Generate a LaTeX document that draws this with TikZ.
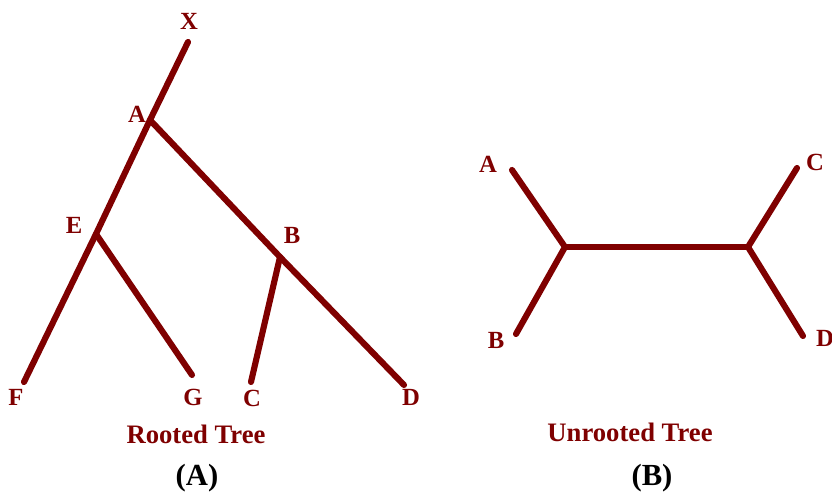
\documentclass[tikz,border=0pt]{standalone}
\usepackage{fontspec}
\setmainfont{Liberation Serif}
\definecolor{treered}{HTML}{7F0000}
\begin{document}
\begin{tikzpicture}[x=0.75pt,y=-0.75pt,
  branch/.style={draw=treered,line width=4.6pt,line cap=round},
  lbl/.style={text=treered,font=\bfseries\fontsize{18.5}{20}\selectfont,inner sep=0pt},
  titlelbl/.style={text=treered,font=\bfseries\fontsize{20}{22}\selectfont,inner sep=0pt},
  panel/.style={text=black,font=\bfseries\fontsize{23}{26}\selectfont,inner sep=0pt}]
\useasboundingbox (0,0) rectangle (832,498);
% rooted tree
\coordinate (x) at (188,42);
\coordinate (a) at (150,120);
\coordinate (e) at (96,234);
\coordinate (f) at (24,382);
\coordinate (g) at (192,375);
\coordinate (b) at (280,257);
\coordinate (c) at (251,382);
\coordinate (d) at (404,385);
\draw[branch] (x) -- (a) -- (e) -- (f);
\draw[branch] (e) -- (g);
\draw[branch] (a) -- (b) -- (d);
\draw[branch] (b) -- (c);
\node[lbl] (lx) at (189,21) {X};
\node[lbl] (la) at (137,114) {A};
\node[lbl] (le) at (74,225) {E};
\node[lbl] (lb) at (292,235) {B};
\node[lbl] (lf) at (16,397) {F};
\node[lbl] (lg) at (193,397) {G};
\node[lbl] (lc) at (252,398) {C};
\node[lbl] (ld) at (411,397) {D};
\node[titlelbl] (rt) at (196,434) {Rooted Tree};
\node[panel] (pa) at (197,478) {(A)};
% unrooted tree
\coordinate (ua) at (512,170);
\coordinate (ul) at (565,247);
\coordinate (ub) at (516,334);
\coordinate (ur) at (748,247);
\coordinate (uc) at (797,168);
\coordinate (ud) at (803,336);
\draw[branch] (ua) -- (ul) -- (ub);
\draw[branch] (ul) -- (ur);
\draw[branch] (uc) -- (ur) -- (ud);
\node[lbl] (lua) at (488,164) {A};
\node[lbl] (lub) at (496,340) {B};
\node[lbl] (luc) at (815,162) {C};
\node[lbl] (lud) at (825,338) {D};
\node[titlelbl] (ut) at (630,432) {Unrooted Tree};
\node[panel] (pb) at (652,478) {(B)};
\end{tikzpicture}
\end{document}
